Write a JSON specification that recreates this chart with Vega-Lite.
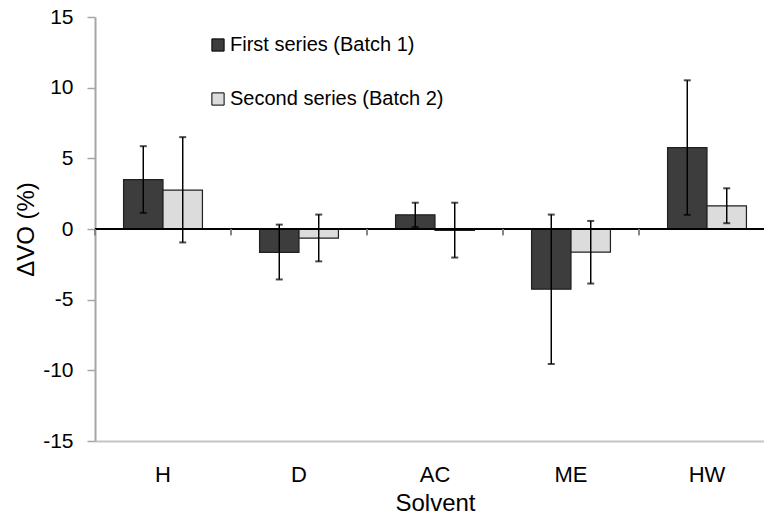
{
  "$schema": "https://vega.github.io/schema/vega-lite/v6.json",
  "autosize": {"type": "none"},
  "padding": {"left": 95, "top": 17, "right": 0, "bottom": 75},
  "width": 669,
  "height": 424,
  "config": {"font": "Liberation Sans", "view": {"stroke": null}},
  "data": {"values": [
    {"solvent": "H", "series": "First series (Batch 1)", "value": 3.5, "lo": 1.14, "hi": 5.86},
    {"solvent": "H", "series": "Second series (Batch 2)", "value": 2.75, "lo": -0.95, "hi": 6.5},
    {"solvent": "D", "series": "First series (Batch 1)", "value": -1.65, "lo": -3.57, "hi": 0.31},
    {"solvent": "D", "series": "Second series (Batch 2)", "value": -0.65, "lo": -2.29, "hi": 1.02},
    {"solvent": "AC", "series": "First series (Batch 1)", "value": 1.0, "lo": 0.14, "hi": 1.86},
    {"solvent": "AC", "series": "Second series (Batch 2)", "value": -0.1, "lo": -2.02, "hi": 1.86},
    {"solvent": "ME", "series": "First series (Batch 1)", "value": -4.26, "lo": -9.55, "hi": 1.02},
    {"solvent": "ME", "series": "Second series (Batch 2)", "value": -1.64, "lo": -3.86, "hi": 0.57},
    {"solvent": "HW", "series": "First series (Batch 1)", "value": 5.76, "lo": 1.0, "hi": 10.52},
    {"solvent": "HW", "series": "Second series (Batch 2)", "value": 1.64, "lo": 0.41, "hi": 2.88}
  ]},
  "layer": [
    {
      "mark": {"type": "bar", "stroke": "#202020", "strokeWidth": 1.2},
      "encoding": {
        "x": {"field": "solvent", "type": "nominal", "sort": ["H", "D", "AC", "ME", "HW"],
          "scale": {"range": [0, 680], "paddingInner": 0.42, "paddingOuter": 0.21},
          "axis": {"orient": "bottom", "domainColor": "#c4c4c4", "domainWidth": 2, "ticks": false,
            "labelFontSize": 22, "labelColor": "#000", "labelPadding": 23, "labelAngle": 0,
            "title": "Solvent", "titleFontSize": 24, "titleFontWeight": "normal", "titleColor": "#000", "titlePadding": 6}},
        "xOffset": {"field": "series", "type": "nominal", "scale": {"paddingInner": 0, "paddingOuter": 0}},
        "y": {"field": "value", "type": "quantitative",
          "scale": {"domain": [-15, 15], "nice": false, "zero": false},
          "axis": {"values": [-15, -10, -5, 0, 5, 10, 15], "grid": false, "domainColor": "#a6a6a6", "domainWidth": 2,
            "tickColor": "#a6a6a6", "tickSize": 8, "tickWidth": 1.5, "labelFontSize": 21, "labelColor": "#000",
            "labelExpr": "'' + datum.value",
            "labelPadding": 14, "title": "ΔVO (%)", "titleFontSize": 24, "titleFontWeight": "normal",
            "titleColor": "#000", "titlePadding": 4}},
        "fill": {"field": "series", "type": "nominal",
          "scale": {"range": ["#3d3d3d", "#dcdcdc"]},
          "legend": {"orient": "none", "legendX": 113, "legendY": 18, "title": null, "symbolType": "square",
            "symbolSize": 150, "symbolStrokeColor": "#000", "symbolStrokeWidth": 1, "labelFontSize": 20,
            "labelColor": "#000", "labelOffset": 2, "labelLimit": 0, "rowPadding": 34, "symbolOpacity": 1}}
      }
    },
    {
      "mark": {"type": "rule", "color": "#000", "strokeWidth": 2.2},
      "encoding": {"y": {"datum": 0}}
    },
    {
      "mark": {"type": "rule", "color": "#808080", "strokeWidth": 1.5},
      "encoding": {
        "x": {"field": "solvent", "type": "nominal", "sort": ["H", "D", "AC", "ME", "HW"], "bandPosition": -0.362},
        "y": {"datum": 0},
        "y2": {"datum": -0.45}
      }
    },
    {
      "mark": {"type": "rule", "color": "#000", "strokeWidth": 1.5},
      "encoding": {
        "x": {"field": "solvent", "type": "nominal", "sort": ["H", "D", "AC", "ME", "HW"]},
        "xOffset": {"field": "series", "type": "nominal"},
        "y": {"field": "lo", "type": "quantitative"},
        "y2": {"field": "hi"}
      }
    },
    {
      "mark": {"type": "tick", "color": "#000", "size": 7, "thickness": 2},
      "encoding": {
        "x": {"field": "solvent", "type": "nominal", "sort": ["H", "D", "AC", "ME", "HW"]},
        "xOffset": {"field": "series", "type": "nominal"},
        "y": {"field": "lo", "type": "quantitative"}
      }
    },
    {
      "mark": {"type": "tick", "color": "#000", "size": 7, "thickness": 2},
      "encoding": {
        "x": {"field": "solvent", "type": "nominal", "sort": ["H", "D", "AC", "ME", "HW"]},
        "xOffset": {"field": "series", "type": "nominal"},
        "y": {"field": "hi", "type": "quantitative"}
      }
    }
  ]
}
